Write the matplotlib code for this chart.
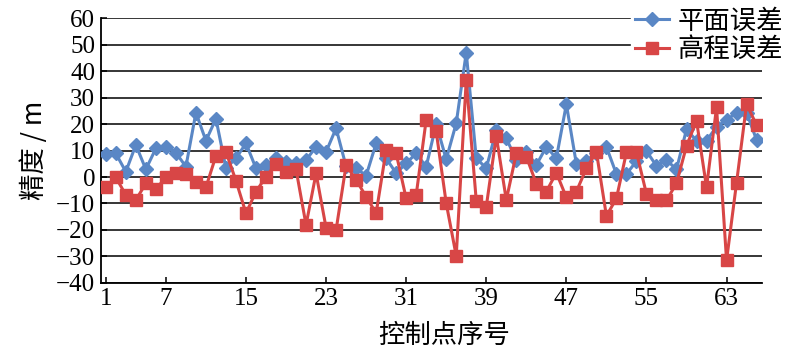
#!/usr/bin/env python3
"""Plane / elevation error of control points (line chart with markers)."""
import numpy as np
import matplotlib
matplotlib.use("Agg")
import matplotlib.pyplot as plt

# control point index 1..66
points = np.arange(1, 67)
plane_err = [8.6, 8.9, 2.0, 12.1, 2.9, 10.8, 11.4, 9.2, 3.9, 24.3,
             13.7, 22.0, 3.3, 7.1, 12.7, 3.3, 4.5, 7.1, 5.8, 5.2,
             6.4, 11.4, 9.5, 18.4, 4.0, 3.3, 0.5, 12.7, 7.1, 1.4,
             5.2, 8.9, 3.9, 20.0, 6.7, 20.3, 47.0, 7.1, 3.3, 17.7,
             14.6, 6.4, 9.5, 4.5, 11.4, 7.1, 27.5, 4.9, 6.2, 9.0,
             11.4, 1.1, 1.1, 6.0, 9.8, 4.2, 6.4, 2.9, 18.0, 13.7,
             13.7, 19.0, 21.5, 24.3, 24.3, 14.0]
elev_err = [-3.9, -0.1, -6.8, -8.7, -2.4, -4.6, -0.1, 1.6, 1.1, -1.8,
            -3.9, 8.0, 9.5, -1.4, -13.7, -5.5, 0.1, 4.9, 2.0, 2.9,
            -18.1, 1.4, -19.2, -20.0, 4.5, -1.1, -7.4, -13.7, 10.2, 8.9,
            -8.1, -6.8, 21.6, 17.2, -9.9, -29.8, 36.6, -8.9, -11.2, 15.5,
            -8.7, 8.9, 7.7, -2.5, -5.5, 1.6, -7.7, -5.5, 3.3, 9.5,
            -14.7, -8.1, 9.3, 9.4, -6.4, -8.8, -8.8, -2.4, 11.7, 21.3,
            -3.9, 26.3, -31.5, -2.1, 27.5, 19.6]
xtick_vals = [1, 7, 15, 23, 31, 39, 47, 55, 63]
ytick_vals = list(range(-40, 61, 10))

BLUE, RED = "#5a87c5", "#d84646"
CJK = ["Noto Sans CJK SC", "DejaVu Sans"]
SERIF = ["Liberation Serif", "DejaVu Serif"]

fig = plt.figure(figsize=(8, 3.55), dpi=100)
ax = fig.add_axes([0.126, 0.203, 0.826, 0.746])

ax.plot(points, plane_err, "-", color=BLUE, lw=2.2, marker="D", ms=7,
        mec=BLUE, mfc=BLUE, label="平面误差", zorder=3)
ax.plot(points, elev_err, "-", color=RED, lw=2.2, marker="s", ms=8.5,
        mec=RED, mfc=RED, label="高程误差", zorder=4)

ax.set_xlim(0.5, 66.5)
ax.set_ylim(-40, 60)
ax.set_xticks(xtick_vals)
ax.set_yticks(ytick_vals)
ax.yaxis.grid(True, color="black", lw=1.1)
ax.set_axisbelow(True)
for s in ("top", "right"):
    ax.spines[s].set_visible(False)
for s in ("left", "bottom"):
    ax.spines[s].set_linewidth(1.3)
ax.tick_params(direction="in", length=4, width=1.1, pad=4)
for lab in ax.get_xticklabels() + ax.get_yticklabels():
    lab.set_family(SERIF)
    lab.set_fontsize(18)

ax.set_xlabel("控制点序号", family=CJK, fontsize=19, labelpad=2)
ax.xaxis.set_label_coords(0.52, -0.148)
ax.set_ylabel("精度 / m", family=CJK, fontsize=19, labelpad=6)

leg = ax.legend(loc="upper right", bbox_to_anchor=(1.0, 1.027),
                bbox_transform=fig.transFigure, frameon=True,
                handlelength=1.3, handletextpad=0.3, labelspacing=0.05,
                borderpad=0.15, prop={"family": CJK, "size": 19})
leg.get_frame().set_edgecolor("white")
leg.get_frame().set_facecolor("white")
leg.get_frame().set_alpha(1)

plt.savefig("out.png", dpi=100)
